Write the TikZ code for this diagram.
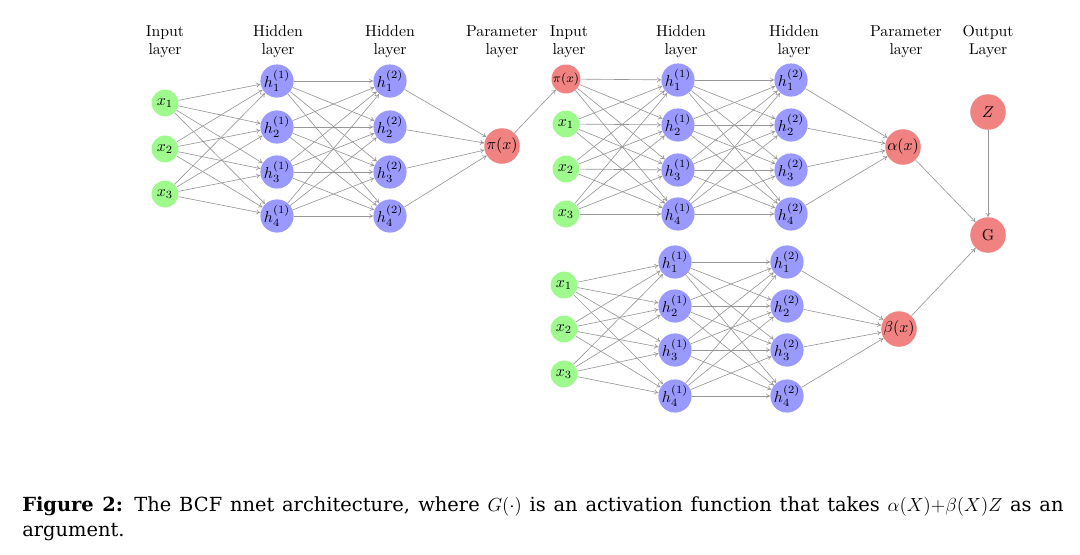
\documentclass[tikz,border=0pt]{standalone}
\usepackage{fontspec}
\newfontfamily\capfont{DejaVu Serif}
\usetikzlibrary{arrows.meta}
\definecolor{ngreen}{RGB}{158,250,140}
\definecolor{nblue}{RGB}{153,153,255}
\definecolor{nred}{RGB}{240,130,130}
\definecolor{egray}{RGB}{150,150,150}
\begin{document}
\begin{tikzpicture}[x=0.6329pt,y=-0.6329pt,
  inp/.style={circle,fill=ngreen,inner sep=0pt,minimum size=17pt},
  hid/.style={circle,fill=nblue,inner sep=0pt,minimum size=19pt},
  par/.style={circle,fill=nred,inner sep=0pt,minimum size=22.5pt},
  pin/.style={circle,fill=nred,inner sep=0pt,minimum size=17pt,font=\footnotesize},
  edge/.style={draw=egray,line width=0.4pt,-{To[length=2.6pt,width=3.2pt]}},
  hdr/.style={align=center,inner sep=0pt,font=\normalsize\linespread{0.95}\selectfont}]
\useasboundingbox (0,0) rectangle (1080,554);

% headers
\node[hdr] (h1) at (165,42) {Input\\layer};
\node[hdr] (h2) at (278,42) {Hidden\\layer};
\node[hdr] (h3) at (390,42) {Hidden\\layer};
\node[hdr] (h4) at (502,42) {Parameter\\layer};
\node[hdr] (h5) at (569,42) {Input\\layer};
\node[hdr] (h6) at (681,42) {Hidden\\layer};
\node[hdr] (h7) at (794,42) {Hidden\\layer};
\node[hdr] (h8) at (906,42) {Parameter\\layer};
\node[hdr] (h9) at (988,42) {Output\\Layer};

% left network
\foreach \i/\y in {1/103,2/149,3/194} \node[inp] (Lx\i) at (165,\y) {$x_\i$};
\foreach \i/\y in {1/81,2/127,3/172,4/216} {
  \node[hid] (La\i) at (277,\y) {$h_\i^{(1)}$};
  \node[hid] (Lb\i) at (390,\y) {$h_\i^{(2)}$};
}
\node[par] (Lp) at (502,146) {$\pi(x)$};
\foreach \i in {1,2,3} \foreach \j in {1,...,4} \draw[edge] (Lx\i) -- (La\j);
\foreach \i in {1,...,4} \foreach \j in {1,...,4} \draw[edge] (La\i) -- (Lb\j);
\foreach \i in {1,...,4} \draw[edge] (Lb\i) -- (Lp);

% middle top network
\node[pin] (Mx0) at (566,79) {$\pi(x)$};
\foreach \i/\y in {1/124,2/169,3/214} \node[inp] (Mx\i) at (566,\y) {$x_\i$};
\foreach \i/\y in {1/80,2/125,3/170,4/214} {
  \node[hid] (Ma\i) at (678,\y) {$h_\i^{(1)}$};
  \node[hid] (Mb\i) at (791,\y) {$h_\i^{(2)}$};
}
\node[par] (Mp) at (903,147) {$\alpha(x)$};
\foreach \i in {0,...,3} \foreach \j in {1,...,4} \draw[edge] (Mx\i) -- (Ma\j);
\foreach \i in {1,...,4} \foreach \j in {1,...,4} \draw[edge] (Ma\i) -- (Mb\j);
\foreach \i in {1,...,4} \draw[edge] (Mb\i) -- (Mp);
\draw[edge] (Lp) -- (Mx0);

% bottom network
\foreach \i/\y in {1/285,2/329,3/374} \node[inp] (Bx\i) at (564,\y) {$x_\i$};
\foreach \i/\y in {1/262,2/306,3/350,4/396} {
  \node[hid] (Ba\i) at (675,\y) {$h_\i^{(1)}$};
  \node[hid] (Bb\i) at (787,\y) {$h_\i^{(2)}$};
}
\node[par] (Bp) at (899,329) {$\beta(x)$};
\foreach \i in {1,2,3} \foreach \j in {1,...,4} \draw[edge] (Bx\i) -- (Ba\j);
\foreach \i in {1,...,4} \foreach \j in {1,...,4} \draw[edge] (Ba\i) -- (Bb\j);
\foreach \i in {1,...,4} \draw[edge] (Bb\i) -- (Bp);

% output
\node[par] (Z) at (988,112) {$Z$};
\node[par] (G) at (988,235) {G};
\draw[edge] (Z) -- (G);
\draw[edge] (Mp) -- (G);
\draw[edge] (Bp) -- (G);

% caption
\node[anchor=base west,inner sep=0pt,text width=659pt,align=justify,
  font=\capfont\fontsize{12.3}{16.4}\selectfont] (cap) at (22,511)
  {\textbf{Figure 2:} The BCF nnet architecture, where $G(\cdot)$ is an activation function that takes $\alpha(X){+}\beta(X)Z$ as an\linebreak argument.};
\end{tikzpicture}
\end{document}
